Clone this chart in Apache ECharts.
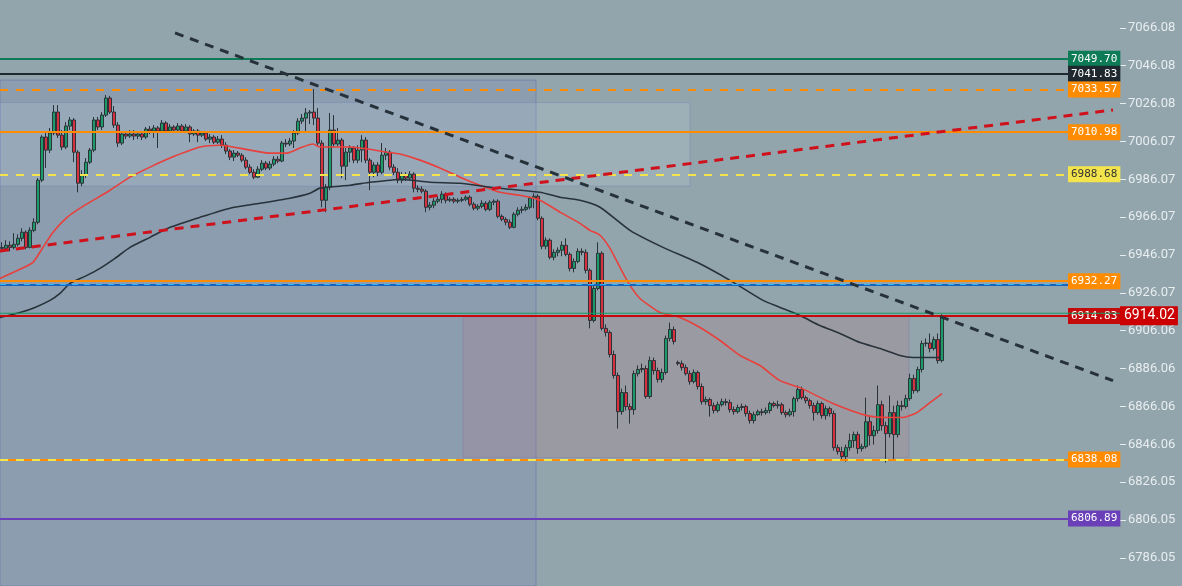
<!DOCTYPE html>
<html>
<head>
<meta charset="utf-8">
<script src="https://cdn.jsdelivr.net/npm/echarts@6/dist/echarts.min.js"></script>
<style>
  html, body { margin: 0; padding: 0; background: #92a5ac; }
  #chart { width: 1182px; height: 586px; }
</style>
</head>
<body>
<div id="chart"></div>
<script>
// [open, close, low, high]
const candles = [
  [6950.1,6949.6,6947.5,6952.8],[6949.6,6951.2,6948.6,6953.9],[6951.2,6950.1,6948.0,6953.3],[6950.1,6951.7,6949.1,6957.6],
  [6951.7,6954.9,6950.7,6957.0],[6954.9,6958.1,6953.3,6960.2],[6958.1,6950.1,6949.1,6959.1],[6950.1,6959.1,6949.6,6960.7],
  [6959.1,6963.4,6958.1,6965.5],[6963.4,6985.6,6962.3,6986.7],[6985.6,7008.4,6984.5,7009.4],[7008.4,7001.5,6992.0,7010.5],
  [7001.5,7010.5,6999.9,7013.2],[7010.5,7021.6,7009.4,7025.3],[7021.6,7009.4,7007.9,7025.3],[7009.4,7003.1,7001.5,7012.1],
  [7003.1,7014.2,7002.0,7016.3],[7014.2,7017.4,7012.1,7019.0],[7017.4,7000.4,6995.1,7018.4],[7000.4,6984.0,6979.2,7001.5],
  [6984.0,6988.3,6982.4,6990.9],[6988.3,6995.1,6986.7,6997.3],[6995.1,7001.5,6994.1,7002.6],[7001.5,7017.4,7000.4,7019.0],
  [7017.4,7013.7,7012.1,7019.0],[7013.7,7020.0,7012.1,7021.6],[7020.0,7029.0,7019.0,7030.6],[7029.0,7021.6,7020.6,7030.1],
  [7021.6,7014.7,7013.2,7024.8],[7014.7,7005.2,7003.1,7016.3],[7005.2,7010.0,7004.1,7011.6],[7010.0,7008.9,7007.3,7011.6],
  [7008.9,7010.0,7007.9,7012.1],[7010.0,7008.9,7006.8,7012.1],[7008.9,7010.0,7007.3,7011.0],[7010.0,7008.4,7006.8,7011.6],
  [7008.4,7012.6,7007.3,7013.7],[7012.6,7011.6,7010.0,7014.2],[7011.6,7013.2,7007.9,7014.7],[7013.2,7011.6,7002.6,7014.2],
  [7011.6,7015.8,7010.5,7017.4],[7015.8,7011.6,7010.5,7016.8],[7011.6,7013.7,7011.0,7015.3],[7013.7,7012.1,7011.0,7014.7],
  [7012.1,7014.2,7011.6,7015.8],[7014.2,7011.6,7010.5,7015.3],[7011.6,7013.7,7010.5,7015.3],[7013.7,7010.0,7005.7,7014.7],
  [7010.0,7011.6,7008.9,7012.6],[7011.6,7009.4,7005.7,7012.6],[7009.4,7010.5,7008.4,7011.6],[7010.5,7007.3,7006.3,7011.6],
  [7007.3,7008.4,7005.2,7010.0],[7008.4,7005.7,7004.7,7009.4],[7005.7,7007.3,7004.7,7008.9],[7007.3,7004.1,7002.6,7009.4],
  [7004.1,7001.0,6999.4,7005.7],[7001.0,6997.8,6996.2,7002.0],[6997.8,6999.9,6995.7,7001.5],[6999.9,6998.8,6997.8,7001.0],
  [6998.8,6996.2,6995.1,6999.9],[6996.2,6992.5,6991.4,6997.8],[6992.5,6989.8,6988.8,6994.1],[6989.8,6987.2,6986.1,6991.4],
  [6987.2,6991.4,6986.7,6993.0],[6991.4,6994.6,6990.4,6996.2],[6994.6,6992.0,6990.9,6995.7],[6992.0,6994.1,6990.9,6995.7],
  [6994.1,6996.7,6993.0,6998.3],[6996.7,6995.7,6994.6,6998.3],[6995.7,7005.2,6995.1,7006.3],[7005.2,7004.7,7003.1,7007.3],
  [7004.7,7006.3,7003.6,7007.9],[7006.3,7010.5,7002.6,7012.1],[7010.5,7016.8,7009.4,7018.4],[7016.8,7018.4,7015.3,7020.6],
  [7018.4,7021.1,7011.6,7023.7],[7021.1,7021.6,7015.3,7022.7],[7021.6,7018.4,7014.7,7033.8],[7018.4,7005.2,7003.6,7023.7],
  [7005.2,6975.0,6971.3,7006.8],[6975.0,6981.9,6968.7,6983.5],[6981.9,7012.1,6980.3,7021.1],[7012.1,7004.7,7003.1,7020.0],
  [7004.7,7006.8,7003.6,7013.2],[7006.8,6993.0,6986.7,7007.9],[6993.0,7000.4,6985.6,7002.6],[7000.4,7002.6,6995.1,7004.1],
  [7002.6,6996.2,6994.6,7003.6],[6996.2,7001.5,6994.6,7004.1],[7001.5,7006.8,6995.1,7009.4],[7006.8,6996.2,6994.6,7008.4],
  [6996.2,6989.8,6980.3,6997.3],[6989.8,6993.6,6987.2,6995.1],[6993.6,6989.8,6987.7,6995.1],[6989.8,6998.8,6988.8,7005.2],
  [6998.8,7000.4,6996.2,7002.6],[7000.4,6992.5,6990.9,7001.5],[6992.5,6989.8,6988.3,6994.1],[6989.8,6985.6,6984.0,6992.0],
  [6985.6,6988.3,6984.0,6989.8],[6988.3,6986.7,6985.1,6989.8],[6986.7,6988.8,6985.6,6990.4],[6988.8,6981.4,6979.2,6989.8],
  [6981.4,6980.8,6979.2,6982.9],[6980.8,6979.8,6978.7,6982.4],[6979.8,6971.3,6968.7,6980.8],[6971.3,6972.4,6969.7,6974.0],
  [6972.4,6974.5,6970.8,6976.1],[6974.5,6975.5,6973.4,6977.1],[6975.5,6978.2,6973.4,6979.8],[6978.2,6975.0,6973.4,6979.2],
  [6975.0,6975.5,6974.0,6976.6],[6975.5,6974.5,6973.4,6976.6],[6974.5,6975.0,6973.4,6976.1],[6975.0,6975.5,6974.0,6976.6],
  [6975.5,6976.6,6974.5,6977.6],[6976.6,6972.9,6971.8,6977.6],[6972.9,6970.8,6969.7,6974.0],[6970.8,6971.8,6969.7,6972.9],
  [6971.8,6973.4,6970.8,6975.0],[6973.4,6970.2,6969.2,6974.5],[6970.2,6974.0,6969.2,6975.0],[6974.0,6974.5,6972.4,6975.5],
  [6974.5,6966.5,6965.5,6975.5],[6966.5,6964.9,6963.9,6967.6],[6964.9,6963.4,6961.8,6966.0],[6963.4,6960.7,6959.7,6964.9],
  [6960.7,6967.6,6960.2,6968.7],[6967.6,6969.7,6966.5,6971.3],[6969.7,6970.2,6968.1,6971.8],[6970.2,6971.3,6969.2,6972.9],
  [6971.3,6976.1,6970.2,6977.1],[6976.1,6977.1,6970.8,6978.7],[6977.1,6965.5,6964.4,6978.2],[6965.5,6950.7,6949.1,6966.5],
  [6950.7,6953.9,6949.1,6955.4],[6953.9,6944.9,6943.8,6954.9],[6944.9,6947.5,6943.3,6949.1],[6947.5,6948.6,6945.4,6950.1],
  [6948.6,6951.2,6945.4,6953.3],[6951.2,6946.4,6945.4,6954.9],[6946.4,6939.0,6937.4,6947.5],[6939.0,6942.7,6936.9,6944.3],
  [6942.7,6948.0,6941.7,6949.6],[6948.0,6947.5,6945.9,6949.6],[6947.5,6938.0,6936.4,6949.1],[6938.0,6911.5,6907.3,6939.0],
  [6911.5,6928.4,6910.4,6930.5],[6928.4,6947.0,6927.4,6952.8],[6947.0,6907.3,6906.2,6948.0],[6907.3,6905.1,6903.0,6909.4],
  [6905.1,6893.5,6891.9,6906.2],[6893.5,6882.4,6880.8,6895.6],[6882.4,6863.3,6854.3,6884.0],[6863.3,6873.4,6861.7,6875.5],
  [6873.4,6866.0,6863.9,6877.1],[6866.0,6864.4,6857.0,6867.6],[6864.4,6883.4,6861.7,6885.0],[6883.4,6885.6,6881.9,6887.7],
  [6885.6,6886.1,6884.0,6888.7],[6886.1,6871.3,6870.2,6887.7],[6871.3,6890.3,6870.2,6892.4],[6890.3,6885.0,6882.9,6891.9],
  [6885.0,6880.3,6878.7,6886.6],[6880.3,6884.0,6878.7,6886.1],[6884.0,6902.0,6882.9,6903.5],[6902.0,6906.7,6900.4,6910.4],
  [6906.7,6900.4,6898.8,6908.3],[6889.3,6888.7,6887.7,6890.3],[6888.7,6886.6,6885.0,6890.3],[6886.6,6883.4,6882.4,6888.2],
  [6883.4,6879.2,6877.6,6885.0],[6879.2,6884.0,6878.2,6885.6],[6884.0,6876.6,6875.0,6885.0],[6876.6,6868.6,6867.0,6878.2],
  [6868.6,6869.7,6867.0,6871.3],[6869.7,6866.5,6860.7,6870.7],[6866.5,6863.9,6862.3,6868.1],[6863.9,6867.0,6862.8,6868.6],
  [6867.0,6868.6,6866.0,6870.2],[6868.6,6868.1,6866.5,6870.2],[6868.1,6864.4,6862.8,6869.7],[6864.4,6863.3,6861.7,6866.0],
  [6863.3,6865.5,6862.3,6867.0],[6865.5,6866.0,6863.9,6867.6],[6866.0,6862.3,6860.7,6867.0],[6862.3,6858.6,6857.0,6863.9],
  [6858.6,6861.7,6857.0,6863.3],[6861.7,6863.3,6861.2,6864.4],[6863.3,6862.8,6861.2,6864.9],[6862.8,6863.9,6861.7,6865.5],
  [6863.9,6867.6,6862.3,6868.6],[6867.6,6866.5,6865.5,6868.6],[6866.5,6867.0,6864.9,6869.1],[6867.0,6862.8,6861.7,6868.1],
  [6862.8,6861.7,6860.2,6863.9],[6861.7,6863.3,6860.7,6864.9],[6863.3,6870.2,6860.7,6871.3],[6870.2,6875.0,6868.6,6877.1],
  [6875.0,6870.7,6869.7,6876.6],[6870.7,6869.1,6867.6,6871.8],[6869.1,6866.5,6864.9,6870.2],[6866.5,6862.8,6858.6,6868.1],
  [6862.8,6867.6,6861.7,6869.1],[6867.6,6861.2,6859.6,6868.6],[6861.2,6864.9,6859.1,6866.5],[6864.9,6862.3,6860.7,6866.0],
  [6862.3,6844.3,6842.7,6863.9],[6844.3,6842.2,6840.6,6845.9],[6842.2,6839.6,6838.0,6844.8],[6839.6,6844.3,6836.9,6845.9],
  [6844.3,6848.0,6842.7,6851.7],[6848.0,6851.2,6844.3,6852.8],[6851.2,6843.8,6841.1,6852.8],[6843.8,6844.8,6842.2,6846.4],
  [6844.8,6858.0,6843.8,6870.7],[6858.0,6850.6,6845.4,6860.7],[6850.6,6853.3,6845.9,6855.9],[6853.3,6867.0,6851.7,6877.1],
  [6867.0,6855.9,6853.3,6869.1],[6855.9,6851.7,6836.4,6858.0],[6851.7,6862.8,6849.6,6871.8],[6862.8,6851.2,6837.4,6866.5],
  [6851.2,6866.5,6849.6,6869.1],[6866.5,6866.0,6863.9,6869.1],[6866.0,6870.2,6864.9,6872.3],[6870.2,6880.8,6869.1,6883.4],
  [6880.8,6874.4,6872.8,6882.9],[6874.4,6885.6,6873.4,6887.1],[6885.6,6899.3,6884.0,6900.9],[6899.3,6899.6,6897.7,6902.0],
  [6899.6,6896.7,6894.6,6904.6],[6896.7,6901.4,6895.6,6903.0],[6901.4,6890.3,6888.7,6904.6],[6890.3,6914.0,6889.3,6914.8]
];

// moving averages: [bar position, price]
const maFast = [
  [-0.5,6933.7],[4.5,6938.5],[7.75,6942.2],[10.25,6950.1],[12.75,6958.1],[16.25,6966.0],[19.5,6970.8],[22,6974.0],
  [27,6980.3],[32,6987.2],[37,6992.5],[42,6997.3],[49.5,7003.1],[54.5,7004.1],[62,7001.5],[67,6999.9],[71.25,6999.9],
  [74.5,7002.6],[77.75,7004.7],[79.5,7003.1],[87,7003.1],[96.25,7000.4],[99.5,6999.4],[104.5,6996.2],[109.5,6992.0],
  [114.5,6987.2],[119.5,6982.9],[124.5,6979.2],[129.5,6977.6],[134.5,6975.0],[139.5,6968.7],[144.5,6962.8],[147,6959.1],
  [149.5,6956.5],[152,6949.6],[154.5,6939.5],[157,6930.0],[159.5,6923.1],[164.5,6915.7],[169.5,6913.1],[174.5,6907.8],
  [179.5,6900.9],[184.5,6893.0],[189.5,6887.7],[194.5,6879.7],[199.5,6876.0],[207.75,6867.6],[216.25,6861.2],[222,6860.2],
  [225.25,6860.2],[228.75,6862.8],[232,6868.1],[235,6872.8]
];
const maSlow = [
  [-0.5,6913.1],[4.5,6915.7],[8.25,6918.4],[12,6922.1],[14.5,6925.8],[17,6931.1],[20.75,6934.8],[24.5,6939.0],
  [28.25,6944.3],[32,6950.1],[37,6955.4],[42,6960.7],[49.5,6966.0],[57,6970.8],[64.5,6973.4],[72,6976.1],[77,6978.7],
  [79.5,6981.4],[87,6982.9],[92,6984.5],[97,6985.6],[99.5,6986.1],[107,6984.5],[114.5,6984.0],[122,6981.9],[127,6980.8],
  [134.5,6979.2],[139.5,6976.6],[144.5,6975.0],[149.5,6971.3],[157,6959.1],[165.25,6950.1],[173.75,6942.2],[182,6932.7],
  [190.25,6922.1],[194.5,6918.4],[199.5,6914.1],[204.5,6908.8],[209.5,6904.6],[214.5,6899.8],[219.5,6896.7],[224.5,6893.0],
  [227.75,6891.9],[234.5,6891.9]
];

const trendDown = [[43.25,7063.4],[277.75,6879.7]];
const trendUp = [[-0.5,6948.2],[277.75,7022.7]];

// shaded zones: [left, top], [right, bottom]
const zones = [
  [[-0.5,7038.5],[133.5,6771.2]],
  [[-0.5,7026.6],[172,6982.5]],
  [[115.25,6913.5],[226.75,6839.1]]
];

const yTicks = [7066.08,7046.08,7026.08,7006.07,6986.07,6966.07,6946.07,6926.07,6906.06,6886.06,6866.06,6846.06,6826.05,6806.05,6786.05];

const levelValues = [7049.70, 7041.83, 7033.57, 7010.98, 6988.68, 6932.27, 6913.9, 6838.08, 6806.89];
const levelTags = ['7049.70', '7041.83', '7033.57', '7010.98', '6988.68', '6932.27', '6914.83', '6838.08', '6806.89'];
const lastPrice = 6914.02;
const alertLevel = 6930.6;
const greenLevel = 6915.3;

const levelLook = [
  { line: '#0c7b56', box: '#0c7b56', text: '#fff', type: 'solid' },
  { line: '#1f282e', box: '#1f282e', text: '#fff', type: 'solid' },
  { line: '#ff8c00', box: '#ff8c00', text: '#fff', type: [8, 8] },
  { line: '#ff8c00', box: '#ff8c00', text: '#fff', type: 'solid' },
  { line: '#f4e44c', box: '#f4e44c', text: '#333', type: [8, 8] },
  { line: '#ff8c00', box: '#ff8c00', text: '#fff', type: 'solid' },
  { line: '#c40a0a', box: '#c40a0a', text: '#fff', type: 'solid' },
  { line: '#ff8c00', box: '#ff8c00', text: '#fff', type: 'solid' },
  { line: '#6a3fb8', box: '#6a3fb8', text: '#fff', type: 'solid' }
];

const lineEnd = 266.5;
const plotEnd = 279.5;
const slots = Array.from({ length: 280 }, (_, i) => String(i));

function levelLine (v, look, tag) {
  return [
    {
      coord: [-0.5, v],
      lineStyle: { color: look.line, width: 2, type: look.type },
      label: tag ? {
        show: true, position: 'end', distance: 0, formatter: tag,
        color: look.text, backgroundColor: look.box, padding: [2, 3, 2, 3],
        fontFamily: 'DejaVu Sans Mono', fontSize: 11, lineHeight: 12
      } : { show: false }
    },
    { coord: [lineEnd, v] }
  ];
}

const marks = levelValues.map((v, i) => levelLine(v, levelLook[i], levelTags[i]));
marks.push(levelLine(6838.08, { line: '#f6e64a', type: [8, 8] }, null));
marks.push([
  { coord: [-0.5, alertLevel], lineStyle: { color: '#1565c0', width: 2, type: 'solid' }, label: { show: false } },
  { coord: [plotEnd, alertLevel] }
]);
marks.push([
  { coord: [-0.5, alertLevel], lineStyle: { color: '#29b6f6', width: 1, type: [6, 6] }, label: { show: false } },
  { coord: [plotEnd, alertLevel] }
]);
marks.push([
  {
    coord: [lineEnd, lastPrice], lineStyle: { color: 'rgba(0,0,0,0)', width: 1 },
    label: {
      show: true, position: 'end', distance: 0, formatter: lastPrice.toFixed(2),
      color: '#fff', backgroundColor: '#cc0000', padding: [3, 3, 2, 4],
      fontFamily: 'Roboto', fontSize: 14
    }
  },
  { coord: [plotEnd, lastPrice] }
]);

const chart = echarts.init(document.getElementById('chart'));
chart.setOption({
  animation: false,
  backgroundColor: '#92a5ac',
  grid: { left: 0, right: 62, top: 0, bottom: 0 },
  xAxis: [
    { type: 'category', data: slots, show: false, boundaryGap: true },
    { type: 'value', min: -0.5, max: plotEnd, show: false }
  ],
  yAxis: {
    type: 'value', position: 'right', min: 6771.2, max: 7080.8,
    axisLine: { show: false, onZero: false },
    splitLine: { show: false },
    axisTick: { show: true, length: 6, lineStyle: { color: '#e8edf0' }, customValues: yTicks },
    axisLabel: {
      color: '#e8edf0', fontSize: 13, fontFamily: 'Roboto', margin: 8,
      customValues: yTicks, formatter: v => v.toFixed(2)
    }
  },
  series: [
    {
      type: 'candlestick', data: candles, xAxisIndex: 0, barWidth: 3, z: 2,
      itemStyle: {
        color: '#1e9a6a', color0: '#d8303e',
        borderColor: '#2a3338', borderColor0: '#2a3338', borderWidth: 1
      }
    },
    {
      type: 'line', xAxisIndex: 1, data: maFast, smooth: 0.2, symbol: 'none', z: 3,
      lineStyle: { color: '#e8403c', width: 1.6 }
    },
    {
      type: 'line', xAxisIndex: 1, data: maSlow, smooth: 0.2, symbol: 'none', z: 3,
      lineStyle: { color: '#28323a', width: 1.6 },
      markArea: {
        silent: true,
        data: [
          [{ coord: zones[0][0], itemStyle: { color: 'rgba(90,110,200,0.13)', borderColor: 'rgba(95,110,170,0.5)', borderWidth: 1 } }, { coord: zones[0][1] }],
          [{ coord: zones[1][0], itemStyle: { color: 'rgba(215,228,242,0.16)', borderColor: 'rgba(115,130,180,0.4)', borderWidth: 1 } }, { coord: zones[1][1] }],
          [{ coord: zones[2][0], itemStyle: { color: 'rgba(190,110,130,0.2)', borderColor: 'rgba(135,120,165,0.45)', borderWidth: 1 } }, { coord: zones[2][1] }]
        ]
      },
      markLine: { silent: true, symbol: ['none', 'none'], data: marks }
    },
    {
      type: 'line', xAxisIndex: 1, data: [[-0.5, greenLevel], [plotEnd, greenLevel]], symbol: 'none', z: 6,
      lineStyle: { color: '#169b62', width: 1 }
    },
    {
      type: 'line', xAxisIndex: 1, data: trendUp, symbol: 'none', z: 6,
      lineStyle: { color: '#d0101a', width: 3, type: [9, 7] }
    },
    {
      type: 'line', xAxisIndex: 1, data: trendDown, symbol: 'none', z: 6,
      lineStyle: { color: '#27313a', width: 3, type: [9, 7] }
    }
  ]
});
</script>
</body>
</html>
